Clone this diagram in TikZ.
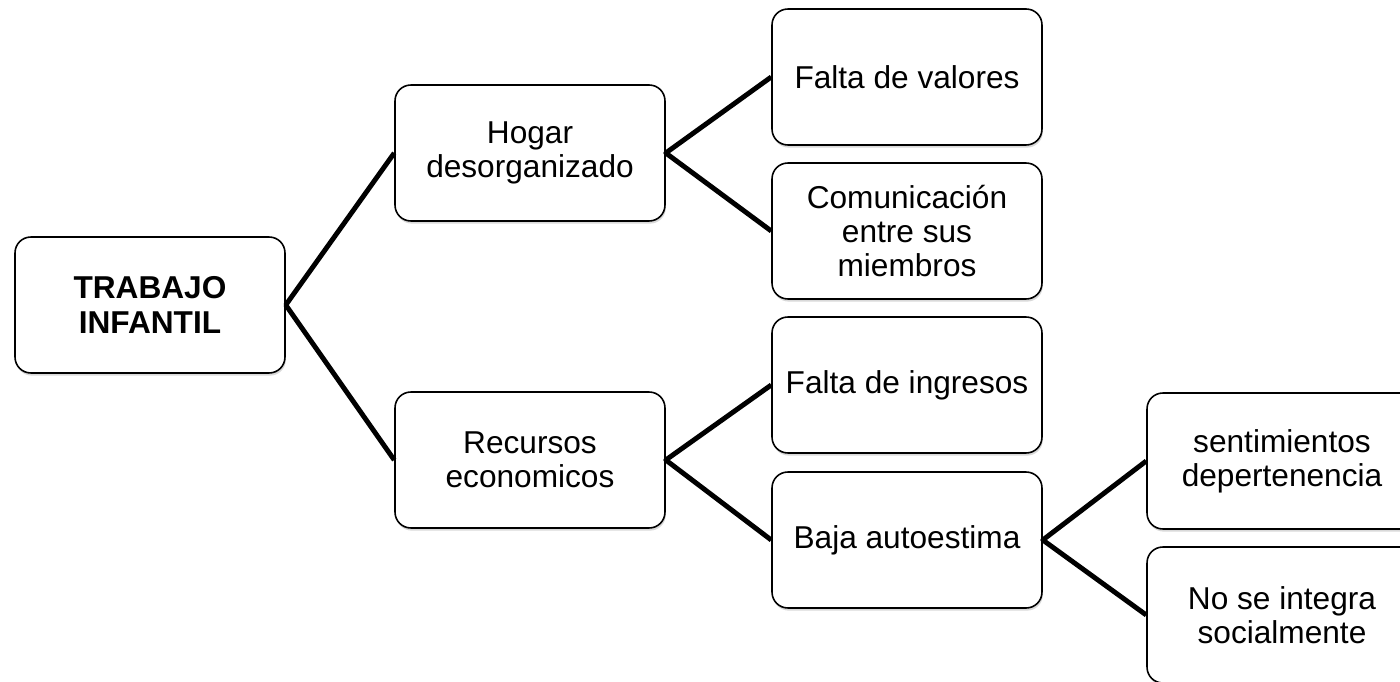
\documentclass[tikz,border=0pt]{standalone}
\usepackage{fontspec}
\setmainfont{Liberation Sans}
\usepackage{tikz}
\usetikzlibrary{shapes, shadows}
\tikzstyle{caja} = [rectangle, rounded corners=9pt, draw=black, line width=0.9pt, fill=white, minimum height=2.72cm, minimum width=5.4cm, align=center, font=\fontsize{18}{19.5}\selectfont, drop shadow={opacity=0.3, shadow xshift=0.5pt, shadow yshift=-1.5pt}]
\tikzstyle{rama} = [line width=2.8pt, line join=round]

\begin{document}
\begin{tikzpicture}[x=0.02cm, y=-0.02cm]
    \useasboundingbox (0,0) rectangle (1400,682);
    \clip (0,0) rectangle (1400,682);

    \node (trabajo) [caja] at (150,305) {\textbf{TRABAJO}\\\textbf{INFANTIL}};
    \node (hogar) [caja] at (530,153) {Hogar\\desorganizado};
    \node (recursos) [caja] at (530,460) {Recursos\\economicos};
    \node (valores) [caja] at (907,77) {Falta de valores};
    \node (comunicacion) [caja] at (907,231) {Comunicación\\entre sus\\miembros};
    \node (ingresos) [caja] at (907,385) {Falta de ingresos};
    \node (baja) [caja] at (907,540) {Baja autoestima};
    \node (sentimientos) [caja] at (1282,461) {sentimientos\\depertenencia};
    \node (integra) [caja] at (1282,615) {No se integra\\socialmente};

    \draw[rama] (hogar.west) -- (trabajo.east) -- (recursos.west);
    \draw[rama] (valores.west) -- (hogar.east) -- (comunicacion.west);
    \draw[rama] (ingresos.west) -- (recursos.east) -- (baja.west);
    \draw[rama] (sentimientos.west) -- (baja.east) -- (integra.west);
\end{tikzpicture}
\end{document}
